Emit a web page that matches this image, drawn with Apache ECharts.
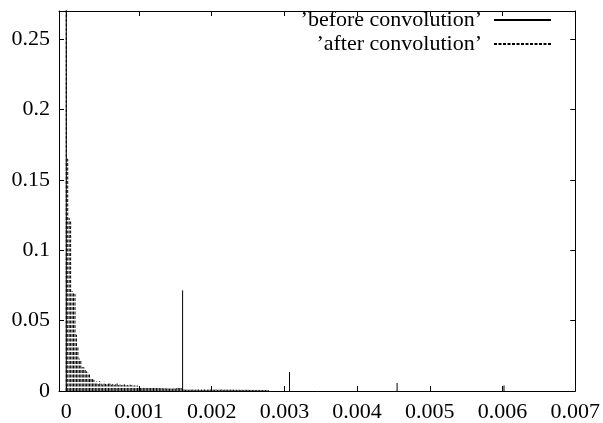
<!DOCTYPE html>
<html><head><meta charset="utf-8">
<script src="https://cdn.jsdelivr.net/npm/echarts@6/dist/echarts.min.js"></script>
<style>html,body{margin:0;padding:0;background:#fff}#c{width:603px;height:423px}</style>
</head><body><div id="c"></div>
<script>
// ---- data ----
const xTickValues = [0, 0.001, 0.002, 0.003, 0.004, 0.005, 0.006, 0.007];
const yTickValues = [0, 0.05, 0.1, 0.15, 0.2, 0.25];
const seriesNames = ['\u2019before convolution\u2019', '\u2019after convolution\u2019'];
// before convolution: impulse positions and heights
const beforeX = [0, 0.0016, 0.00307, 0.00455, 0.00602];
const beforeY = [0.32, 0.0715, 0.0135, 0.0057, 0.004];
// after convolution: samples every afterStep seconds, starting at 0
const afterStep = 0.00002;
const afterY = [
  0.30, 0.165, 0.123, 0.121, 0.071, 0.070, 0.069, 0.040, 0.032, 0.023,
  0.022, 0.017, 0.017, 0.016, 0.014, 0.013, 0.0125, 0.009, 0.0085, 0.008,
  0.0055, 0.0068, 0.005, 0.007, 0.0052, 0.0046, 0.0066, 0.005, 0.0047, 0.0052,
  0.0058, 0.0045, 0.005, 0.0043, 0.0048, 0.0055, 0.0042, 0.0046, 0.0041, 0.0044,
  0.0047, 0.004, 0.0043, 0.0039, 0.0045, 0.0041, 0.0038, 0.004, 0.0037, 0.0039,
  0.0032, 0.0028, 0.003, 0.0026, 0.0029, 0.0025, 0.0027, 0.0024, 0.0026, 0.0023,
  0.0025, 0.0022, 0.0024, 0.0021, 0.0022, 0.002, 0.0021, 0.0019, 0.002, 0.0018,
  0.0019, 0.0017, 0.0018, 0.0016, 0.0019, 0.0017, 0.0022, 0.0025, 0.003, 0.0028,
  0.0015, 0.0011, 0.0009, 0.0011, 0.0008, 0.001, 0.0009, 0.0011, 0.0008, 0.001,
  0.0009, 0.0011, 0.0008, 0.001, 0.0009, 0.0011, 0.0008, 0.001, 0.0009, 0.0011,
  0.0008, 0.001, 0.0009, 0.0011, 0.0008, 0.001, 0.0009, 0.0011, 0.0008, 0.001,
  0.0009, 0.001, 0.0008, 0.001, 0.0009, 0.001, 0.0008, 0.0009, 0.0008, 0.0009,
  0.0008, 0.0009, 0.0007, 0.0009, 0.0008, 0.0009, 0.0007, 0.0008, 0.0007, 0.0008,
  0.0007, 0.0008, 0.0006, 0.0008, 0.0007, 0.0007, 0.0006, 0.0007, 0.0006, 0.0006
];

function impulses(xs, ys) {
  const out = [];
  for (let i = 0; i < xs.length; i++) {
    out.push([xs[i], 0], [xs[i], ys[i]], [xs[i], null]);
  }
  return out;
}
const afterX = afterY.map((_, k) => +(k * afterStep).toFixed(7));

const FONT = 'Liberation Serif';
const FS = 22;
const chart = echarts.init(document.getElementById('c'), null, {renderer: 'canvas'});
const axisLine = {show: true, onZero: false, lineStyle: {color: '#000', width: 1}};
const tick = vals => ({show: true, inside: true, length: 5, customValues: vals, lineStyle: {color: '#000'}});
chart.setOption({
  animation: false,
  backgroundColor: '#fff',
  grid: {left: 59, right: 25, top: 11, bottom: 31, containLabel: false},
  legend: {
    orient: 'vertical', align: 'right', right: 51, top: 9, padding: 0,
    itemWidth: 57, itemHeight: 14, itemGap: 2,
    itemStyle: {opacity: 0},
    textStyle: {fontFamily: FONT, fontSize: FS, color: '#000', padding: [0, 7, 0, 0]},
    data: seriesNames.map(n => ({name: n}))
  },
  xAxis: [
    {type: 'value', min: -0.0001, max: 0.007, position: 'bottom',
     axisLine, splitLine: {show: false}, axisTick: tick(xTickValues),
     axisLabel: {show: true, customValues: xTickValues, margin: 10, color: '#000', fontFamily: FONT, fontSize: FS}},
    {type: 'value', min: -0.0001, max: 0.007, position: 'top',
     axisLine, splitLine: {show: false}, axisTick: tick(xTickValues),
     axisLabel: {show: false}}
  ],
  yAxis: [
    {type: 'value', min: 0, max: 0.27, position: 'left',
     axisLine, splitLine: {show: false}, axisTick: tick(yTickValues),
     axisLabel: {show: true, customValues: yTickValues, margin: 9, color: '#000', fontFamily: FONT, fontSize: FS}},
    {type: 'value', min: 0, max: 0.27, position: 'right',
     axisLine, splitLine: {show: false}, axisTick: tick(yTickValues),
     axisLabel: {show: false}}
  ],
  series: [
    {name: seriesNames[0], type: 'line', xAxisIndex: 0, yAxisIndex: 0,
     data: impulses(beforeX, beforeY), symbol: 'none', connectNulls: false, clip: true,
     lineStyle: {color: '#000', width: 1, type: 'solid'}, itemStyle: {color: '#000'},
     emphasis: {disabled: true}},
    {name: seriesNames[1], type: 'line', xAxisIndex: 0, yAxisIndex: 0,
     data: impulses(afterX, afterY), symbol: 'none', connectNulls: false, clip: true,
     lineStyle: {color: '#000', width: 1, type: [3, 1.5]}, itemStyle: {color: '#000'},
     emphasis: {disabled: true}}
  ]
});
</script></body></html>
